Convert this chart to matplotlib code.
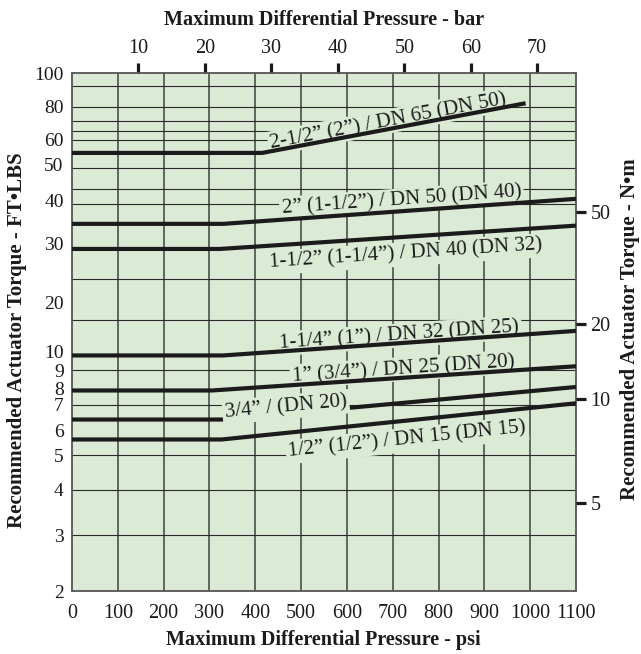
import numpy as np
import matplotlib
matplotlib.use("Agg")
import matplotlib.pyplot as plt
from matplotlib.ticker import NullLocator

# ---------------- data ----------------
PSI_TICKS = [0, 100, 200, 300, 400, 500, 600, 700, 800, 900, 1000, 1100]
BAR_TICKS = [10, 20, 30, 40, 50, 60, 70]
TORQUE_TICKS = [2, 3, 4, 5, 6, 7, 8, 9, 10, 20, 30, 40, 50, 60, 80, 100]
NM_TICKS = [5, 10, 20, 50]
GRID_PSI = [100, 200, 300, 400, 500, 600, 700, 800, 900, 1000]
GRID_TORQUE = [3, 4, 5, 7, 9, 15.5, 23.5, 39, 43, 49, 60, 65, 71, 80, 92]

SIZES = ['2-1/2\u201d (2\u201d) / DN 65 (DN 50)',
         '2\u201d (1-1/2\u201d) / DN 50 (DN 40)',
         '1-1/2\u201d (1-1/4\u201d) / DN 40 (DN 32)',
         '1-1/4\u201d (1\u201d) / DN 32 (DN 25)',
         '1\u201d (3/4\u201d) / DN 25 (DN 20)',
         '3/4\u201d / (DN 20)',
         '1/2\u201d (1/2\u201d) / DN 15 (DN 15)']
BEND_PSI = [415, 330, 323, 330, 305, 327, 327]
FLAT_TORQUE = [54.6, 34.1, 28.8, 9.8, 7.9, 6.4, 5.6]
END_PSI = [990, 1100, 1100, 1100, 1100, 1100, 1100]
END_TORQUE = [82.0, 40.3, 33.7, 13.4, 9.2, 8.1, 7.1]

PSI_PER_BAR = 14.5038
NM_PER_FTLB = 1.35582

# ---------------- layout / style ----------------
# printed (non-uniform) torque scale: fraction of axis height for each tick value
SCALE_POS = [0.0, 0.1081, 0.1950, 0.2625, 0.3108, 0.3591, 0.3900, 0.4266,
             0.4614, 0.5579, 0.6718, 0.7548, 0.8224, 0.8707, 0.9344, 1.0]
LABEL_PSI = [694, 721, 727, 716, 725, 468, 727]
LABEL_OFF_PX = [3, 6, -22, 3, 4, 2, -24]
LABEL_Z = [3, 3, 3, 3, 3, 6, 3]

BG = '#dbead4'
INK = '#1b1b1b'
W, H = 641, 654

plt.rcParams['font.family'] = ['Liberation Serif', 'DejaVu Serif']

_LOGV = np.log10(np.array(TORQUE_TICKS, dtype=float))
_POS = np.array(SCALE_POS, dtype=float)


def _interp(x, xp, fp):
    x = np.asarray(x, dtype=float)
    y = np.interp(x, xp, fp)
    s0 = (fp[1] - fp[0]) / (xp[1] - xp[0])
    s1 = (fp[-1] - fp[-2]) / (xp[-1] - xp[-2])
    y = np.where(x < xp[0], fp[0] + (x - xp[0]) * s0, y)
    y = np.where(x > xp[-1], fp[-1] + (x - xp[-1]) * s1, y)
    return y


def fwd(v):
    v = np.asarray(v, dtype=float)
    lv = np.log10(np.clip(v, 1e-9, None))
    return _interp(lv, _LOGV, _POS)


def inv(p):
    return 10 ** _interp(p, _POS, _LOGV)


fig = plt.figure(figsize=(W / 100, H / 100), dpi=100)
fig.patch.set_facecolor('white')
ax = fig.add_axes([72 / W, (H - 591) / H, 504 / W, 518 / H])
ax.set_facecolor(BG)
ax.set_xlim(0, 1100)
ax.set_yscale('function', functions=(fwd, inv))
ax.set_ylim(2, 100)

ax.set_xticks(PSI_TICKS, [str(t) for t in PSI_TICKS])
ax.set_yticks(TORQUE_TICKS, [str(t) for t in TORQUE_TICKS])
ax.yaxis.set_minor_locator(NullLocator())
ax.xaxis.set_minor_locator(NullLocator())
ax.tick_params(axis='x', length=0, pad=9, labelsize=14.5, colors=INK)
ax.tick_params(axis='y', length=0, pad=6, labelsize=14, colors=INK)

for sp in ax.spines.values():
    sp.set_color('#555555')
    sp.set_linewidth(1.3)

for g in GRID_PSI:
    ax.axvline(g, color='#474747', lw=1.15, zorder=1)
for g in GRID_TORQUE:
    ax.axhline(g, color='#2a2a2a', lw=0.8, zorder=1)

for name, b, f, e, et, lx, off, z in zip(SIZES, BEND_PSI, FLAT_TORQUE, END_PSI,
                                          END_TORQUE, LABEL_PSI, LABEL_OFF_PX, LABEL_Z):
    ax.plot([0, b, e], [f, f, et], color=INK, lw=3.0, solid_capstyle='butt',
            solid_joinstyle='miter', zorder=4)
    p1 = ax.transData.transform((b, f))
    p2 = ax.transData.transform((e, et))
    theta = np.arctan2(p2[1] - p1[1], p2[0] - p1[0])
    px = ax.transData.transform((lx, f))[0]
    t = (px - p1[0]) / (p2[0] - p1[0])
    base = p1 + t * (p2 - p1)
    pt = base + off * np.array([-np.sin(theta), np.cos(theta)])
    xd, yd = ax.transData.inverted().transform(pt)
    ax.text(xd, yd, name, rotation=np.degrees(theta), rotation_mode='anchor',
            ha='center', va='baseline', fontsize=15, color=INK, zorder=z,
            bbox=dict(boxstyle='square,pad=0.12', facecolor=BG, edgecolor='none'))

# right axis: N.m
ax2 = ax.twinx()
ax2.set_yscale('function', functions=(fwd, inv))
ax2.set_ylim(2, 100)
ax2.set_yticks([n / NM_PER_FTLB for n in NM_TICKS], [str(n) for n in NM_TICKS])
ax2.yaxis.set_minor_locator(NullLocator())
ax2.tick_params(axis='y', length=7.5, width=2.3, pad=3, labelsize=14.5,
                direction='out', colors=INK)
for sp in ax2.spines.values():
    sp.set_visible(False)

# top axis: bar
sec = ax.secondary_xaxis('top', functions=(lambda p: p / PSI_PER_BAR,
                                           lambda b: b * PSI_PER_BAR))
sec.set_xticks(BAR_TICKS, [str(b) for b in BAR_TICKS])
sec.xaxis.set_minor_locator(NullLocator())
sec.tick_params(axis='x', length=7.5, width=2.3, pad=3, labelsize=14.5,
                direction='out', colors=INK)
sec.spines['top'].set_visible(False)

# axis titles
fig.text(324 / W, 1 - 20 / H, 'Maximum Differential Pressure - bar', ha='center',
         va='center', fontsize=14.5, fontweight='bold', color=INK)
fig.text(323 / W, 1 - 640 / H, 'Maximum Differential Pressure - psi', ha='center',
         va='center', fontsize=14.5, fontweight='bold', color=INK)
fig.text(17 / W, 1 - 340 / H, 'Recommended Actuator Torque - FT\u2022LBS', ha='center',
         va='center', rotation=90, fontsize=15, fontweight='bold', color=INK)
fig.text(630 / W, 1 - 329 / H, 'Recommended Actuator Torque - N\u2022m', ha='center',
         va='center', rotation=90, fontsize=15, fontweight='bold', color=INK)

fig.savefig('out.png', dpi=100)
